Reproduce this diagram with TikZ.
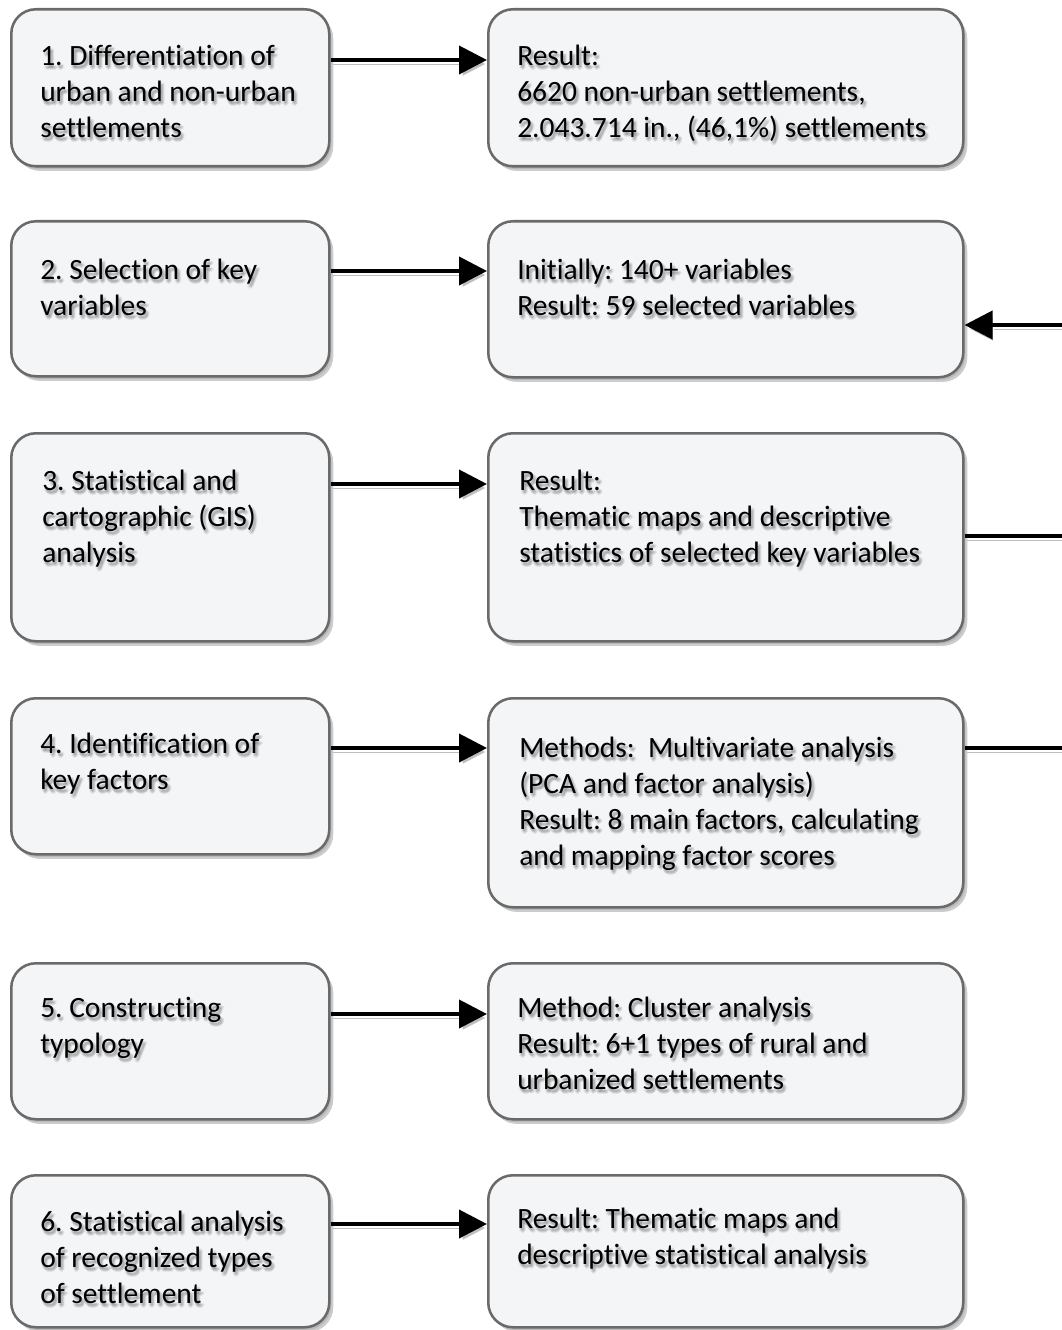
\documentclass[tikz,border=0pt]{standalone}
\usepackage{fontspec}
\setmainfont{Carlito}[Ligatures=NoCommon]
\frenchspacing
\usetikzlibrary{arrows.meta,shadows}
\definecolor{boxfill}{HTML}{F4F5F7}
\definecolor{boxline}{HTML}{6A6A6A}
\newcommand\shtxt[4]{%
  \foreach \dx/\dy in {1/2,3/2,2/3,1/4,3/4,2/5,4/3,0/3}
    \node[txt, text=black, opacity=0.06] at (#2+\dx,#3+\dy) {\strut #4};
  \node[txt] (#1) at (#2,#3) {\strut #4};}
\begin{document}
\begin{tikzpicture}[x=0.75pt,y=-0.75pt,
  box/.style={draw=boxline, line width=1.9pt, fill=boxfill, rounded corners=18.5pt,
    anchor=north west, inner sep=0pt,
    drop shadow={shadow xshift=1.5pt, shadow yshift=-2pt, fill=black!25, opacity=0.6},
    drop shadow={shadow xshift=3pt, shadow yshift=-3.5pt, fill=black!40, opacity=0.5}},
  lbox/.style={box, minimum width=238.5pt},
  rbox/.style={box, minimum width=356.25pt},
  txt/.style={anchor=north west, inner sep=0pt, align=left,
    font=\fontsize{22.1pt}{27pt}\selectfont},
  arr/.style={line width=3pt, -{Triangle[length=21pt,width=21pt]},
    preaction={draw=black!25, transform canvas={xshift=1.5pt, yshift=-3pt}}},
  lin/.style={line width=3pt,
    preaction={draw=black!25, transform canvas={xshift=1.5pt, yshift=-3pt}}}]
\useasboundingbox (0,0) rectangle (1062,1330);

% boxes
\node[lbox, minimum height=117.75pt] (l1) at (10,8) {};
\node[rbox, minimum height=117.75pt] (r1) at (487,8) {};
\node[lbox, minimum height=116.25pt] (l2) at (10,220) {};
\node[rbox, minimum height=117pt] (r2) at (487,220) {};
\node[lbox, minimum height=156pt] (l3) at (10,432) {};
\node[rbox, minimum height=156pt] (r3) at (487,432) {};
\node[lbox, minimum height=117pt] (l4) at (10,697) {};
\node[rbox, minimum height=156.75pt] (r4) at (487,697) {};
\node[lbox, minimum height=117pt] (l5) at (10,962) {};
\node[rbox, minimum height=117pt] (r5) at (487,962) {};
\node[lbox, minimum height=114pt] (l6) at (10,1174) {};
\node[rbox, minimum height=114pt] (r6) at (487,1174) {};

% texts
\shtxt{tl1}{40}{39.8}{1. Differentiation of\\urban and non-urban\\settlements}
\shtxt{tr1}{517}{39.8}{Result:\\6620 non-urban settlements,\\2.043.714 in., (46,1\%) settlements}
\shtxt{tl2}{40}{253.8}{2. Selection of key\\variables}
\shtxt{tr2}{517}{253.8}{Initially: 140+ variables\\Result: 59 selected variables}
\shtxt{tl3}{42}{464.8}{3. Statistical and\\cartographic (GIS)\\analysis}
\shtxt{tr3}{519}{464.8}{Result:\\Thematic maps and descriptive\\statistics of selected key variables}
\shtxt{tl4}{40}{727.8}{4. Identification of\\key factors}
\shtxt{tr4}{519}{731.8}{Methods:~ Multivariate analysis\\(PCA and factor analysis)\\Result: 8 main factors, calculating\\and mapping factor scores}
\shtxt{tl5}{40}{991.8}{5. Constructing\\typology}
\shtxt{tr5}{517}{991.8}{Method: Cluster analysis\\Result: 6+1 types of rural and\\urbanized settlements}
\shtxt{tl6}{40}{1205.8}{6. Statistical analysis\\of recognized types\\of settlement}
\shtxt{tr6}{517}{1202.8}{Result: Thematic maps and\\descriptive statistical analysis}

% connectors
\draw[arr] (l1.east |- 0,60) -- (r1.west |- 0,60);
\draw[arr] (l2.east |- 0,271) -- (r2.west |- 0,271);
\draw[arr] (l3.east |- 0,484) -- (r3.west |- 0,484);
\draw[arr] (l4.east |- 0,748) -- (r4.west |- 0,748);
\draw[arr] (l5.east |- 0,1014) -- (r5.west |- 0,1014);
\draw[arr] (l6.east |- 0,1224) -- (r6.west |- 0,1224);

\coordinate (e2) at (1062,325);
\coordinate (e3) at (1062,536);
\coordinate (e4) at (1062,748);
\draw[arr] (e2) -- (r2.east |- e2);
\draw[lin] (r3.east |- e3) -- (e3);
\draw[lin] (r4.east |- e4) -- (e4);
\end{tikzpicture}
\end{document}
